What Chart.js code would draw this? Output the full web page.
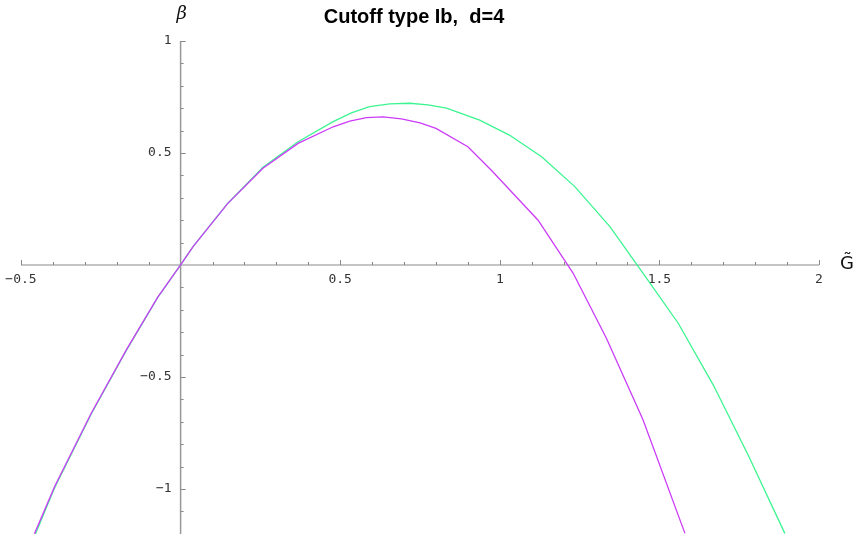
<!DOCTYPE html>
<html>
<head>
<meta charset="utf-8">
<script src="https://cdn.jsdelivr.net/npm/chart.js@4.4.1/dist/chart.umd.min.js"></script>
<style>
  html, body { margin: 0; padding: 0; background: #fff; }
  #wrap { width: 863px; height: 534px; position: relative; }
</style>
</head>
<body>
<div id="wrap"><canvas id="plot"></canvas></div>
<script>
// Curve samples (G~, beta)
var purpleX = [-0.458, -0.395, -0.28, -0.17, -0.072, 0, 0.039, 0.148, 0.258, 0.368, 0.478, 0.53, 0.582, 0.634, 0.692, 0.75, 0.80, 0.90, 0.975, 1.12, 1.23, 1.334, 1.449, 1.58];
var purpleY = [-1.2, -0.99, -0.662, -0.379, -0.145, 0, 0.082, 0.275, 0.432, 0.543, 0.617, 0.642, 0.658, 0.661, 0.652, 0.634, 0.61, 0.528, 0.421, 0.20, -0.037, -0.327, -0.692, -1.198];

var greenX = [-0.456, -0.395, -0.28, -0.17, -0.072, 0, 0.039, 0.148, 0.258, 0.368, 0.478, 0.535, 0.592, 0.655, 0.718, 0.775, 0.833, 0.937, 1.03, 1.131, 1.235, 1.345, 1.449, 1.559, 1.669, 1.778, 1.893];
var greenY = [-1.205, -0.995, -0.665, -0.381, -0.146, 0, 0.082, 0.276, 0.436, 0.55, 0.64, 0.679, 0.707, 0.719, 0.722, 0.715, 0.70, 0.647, 0.58, 0.483, 0.35, 0.171, -0.037, -0.26, -0.536, -0.848, -1.198];

// Axis ticks
var xMajor = [-0.5, 0.5, 1, 1.5, 2];
var xLabels = ['\u22120.5', '0.5', '1', '1.5', '2'];
var yMajor = [1, 0.5, -0.5, -1];
var yLabels = ['1', '0.5', '\u22120.5', '\u22121'];

var title = 'Cutoff type Ib,  d=4';

function toPoints(xs, ys) {
    return xs.map(function (x, i) { return { x: x, y: ys[i] }; });
}

// Mathematica-style axes crossing at the origin
var axesPlugin = {
    id: 'originAxes',
    beforeDatasetsDraw: function (chart) {
        var ctx = chart.ctx;
        var xs = chart.scales.x, ys = chart.scales.y;
        var x0 = xs.getPixelForValue(0), y0 = ys.getPixelForValue(0);
        var i, v, p;
        ctx.save();
        ctx.strokeStyle = '#b0b0b0';
        ctx.lineWidth = 1.5;
        // x axis from -0.5 to 2
        ctx.beginPath();
        ctx.moveTo(xs.getPixelForValue(-0.5), y0);
        ctx.lineTo(xs.getPixelForValue(2), y0);
        ctx.stroke();
        // y axis from 1 down to the bottom
        ctx.strokeStyle = '#999999';
        ctx.beginPath();
        ctx.moveTo(x0, ys.getPixelForValue(1));
        ctx.lineTo(x0, chart.chartArea.bottom);
        ctx.stroke();

        ctx.lineWidth = 1;
        ctx.strokeStyle = '#888888';
        ctx.beginPath();
        for (i = -5; i <= 20; i++) {
            if (i === 0) continue;
            v = i / 10;
            p = Math.round(xs.getPixelForValue(v)) + 0.5;
            var lenX = (i % 5 === 0) ? 5 : 3;
            ctx.moveTo(p, y0);
            ctx.lineTo(p, y0 - lenX);
        }
        for (i = -12; i <= 10; i++) {
            if (i === 0) continue;
            v = i / 10;
            p = Math.round(ys.getPixelForValue(v)) + 0.5;
            var lenY = (i % 5 === 0) ? 5 : 3;
            ctx.moveTo(x0, p);
            ctx.lineTo(x0 + lenY, p);
        }
        ctx.stroke();

        ctx.fillStyle = '#333333';
        ctx.font = '13px "DejaVu Sans Mono", monospace';
        ctx.textAlign = 'center';
        ctx.textBaseline = 'middle';
        xMajor.forEach(function (val, k) {
            ctx.fillText(xLabels[k], xs.getPixelForValue(val), y0 + 15);
        });
        ctx.textAlign = 'right';
        yMajor.forEach(function (val, k) {
            ctx.fillText(yLabels[k], x0 - 9, ys.getPixelForValue(val));
        });

        // axis names
        ctx.fillStyle = '#111111';
        ctx.font = 'italic 18px "DejaVu Serif", serif';
        ctx.textAlign = 'center';
        ctx.fillText('\u03b2', x0 + 1, 14);
        ctx.font = '18px "DejaVu Sans", sans-serif';
        ctx.textAlign = 'left';
        ctx.fillText('G\u0303', xs.getPixelForValue(2) + 21, y0 - 1);

        // title
        ctx.fillStyle = '#000000';
        ctx.font = 'bold 20px "Liberation Sans", Arial, sans-serif';
        ctx.textAlign = 'center';
        ctx.fillText(title, 414, 17);
        ctx.restore();
    }
};

new Chart(document.getElementById('plot'), {
    type: 'scatter',
    data: {
        datasets: [{
            label: 'purple',
            data: toPoints(purpleX, purpleY),
            showLine: true,
            borderColor: '#cc3cf8',
            borderWidth: 1.3,
            pointRadius: 0,
            tension: 0,
            clip: false
        }, {
            label: 'green',
            data: toPoints(greenX, greenY),
            showLine: true,
            borderColor: '#3cf590',
            borderWidth: 1.3,
            pointRadius: 0,
            tension: 0,
            clip: false
        }]
    },
    options: {
        responsive: true,
        maintainAspectRatio: false,
        animation: false,
        layout: { padding: 0 },
        scales: {
            x: { type: 'linear', display: false, min: -0.5658, max: 2.1379 },
            y: { type: 'linear', display: false, min: -1.2009, max: 1.183 }
        },
        plugins: {
            legend: { display: false },
            tooltip: { enabled: false },
            title: { display: false }
        }
    },
    plugins: [axesPlugin]
});
</script>
</body>
</html>
